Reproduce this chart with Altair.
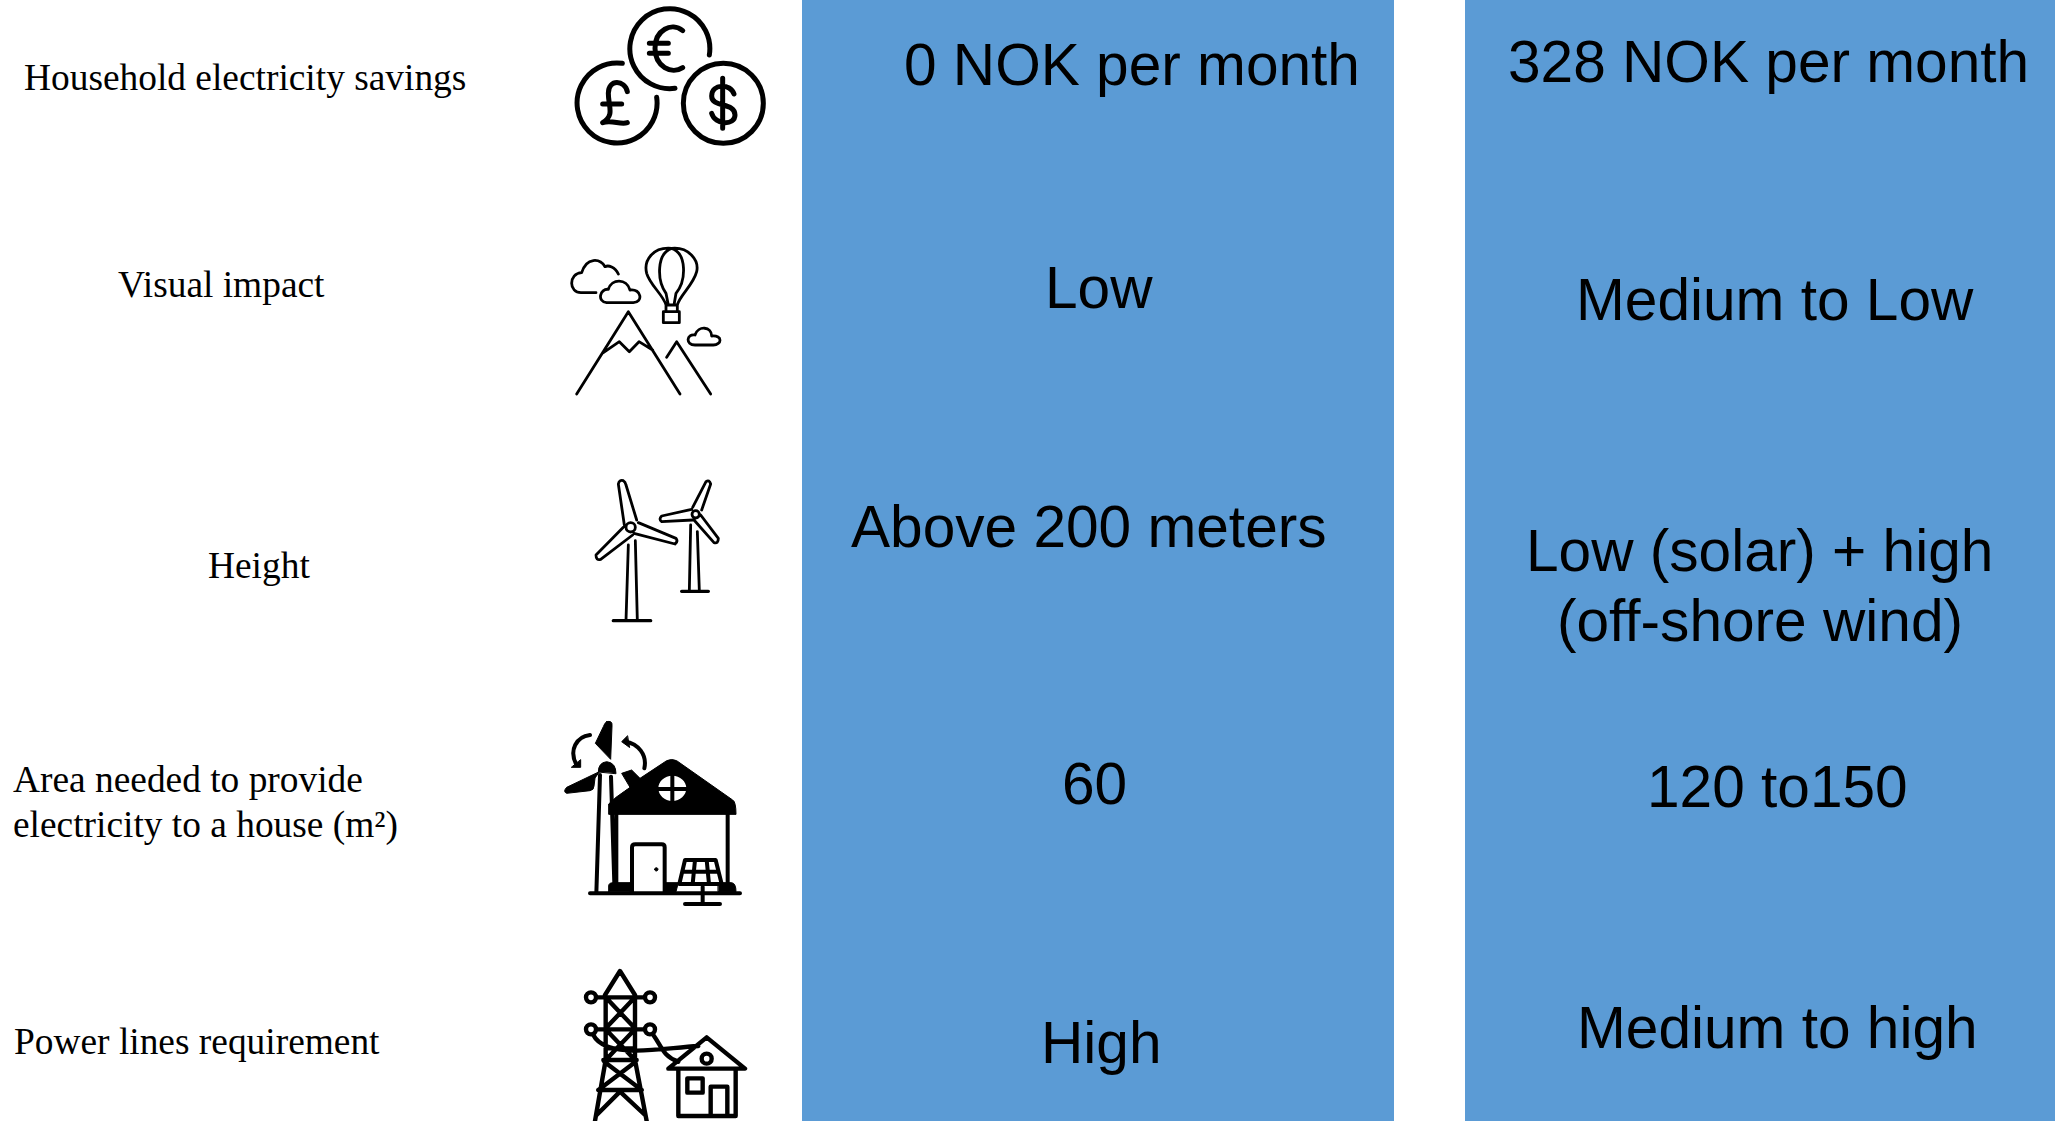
import altair as alt
import pandas as pd

W, H = 2055, 1121

# Blue columns
panel_left = [802, 1465]
panel_right = [1394, 2055]
panel_top = [0, 0]
panel_bottom = [1121, 1121]
BLUE = "#5B9BD5"

# Row labels (serif)
label_text = ["Household electricity savings", "Visual impact", "Height",
              "Area needed to provide", "electricity to a house (m²)", "Power lines requirement"]
label_x = [24, 118, 208, 13, 13, 14]
label_y = [90, 297, 578, 792, 837, 1054]

# Column values (sans)
value_text = ["0 NOK per month", "328 NOK per month", "Low", "Medium to Low",
              "Above 200 meters", "Low (solar) + high", "(off-shore wind)",
              "60", "120 to150", "High", "Medium to high"]
value_x = [904, 1508, 1045, 1576, 851, 1526, 1557, 1062, 1647, 1041, 1577]
value_y = [85, 82, 308, 320, 547, 571, 641, 804, 807, 1063, 1048]


def ring(cx, cy, r, ry=None):
    ry = ry or r
    return f"M{cx-r},{cy} A{r},{ry} 0 1 1 {cx+r},{cy} A{r},{ry} 0 1 1 {cx-r},{cy} Z "


# Icon outlines, drawn at one third of their path units from an (x, y) anchor
COINS = (
    "M508,165 A120,120 0 1 0 405,265 "
    "M247,190 A120,120 0 1 0 350,292 " + ring(550, 310, 120) +
    "M428,92 C395,65 345,90 345,145 C345,200 395,225 428,203 M328,130 L385,130 M328,160 L385,160 "
    "M262,275 C255,240 205,235 205,280 C205,320 225,345 188,368 C215,358 240,375 262,368 M188,312 L245,312 "
    "M582,282 C572,250 515,250 515,288 C515,325 585,305 585,345 C585,378 525,375 515,340 M548,235 L548,385"
)
LANDSCAPE = (
    "M235,822 C225,800 205,795 195,800 C180,775 140,770 125,818 C85,820 85,880 125,878 L168,878 "
    "M200,908 C170,905 180,865 205,868 C215,835 260,835 270,870 C305,865 310,908 280,908 Z "
    "M395,745 C340,740 310,780 320,820 C330,855 370,885 378,915 L412,915 C420,885 460,855 470,815 C478,780 445,740 395,745 Z "
    "M395,745 C350,760 350,840 378,880 L385,915 M395,745 C440,760 440,840 408,880 L402,915 "
    "M370,935 L418,935 L418,968 L370,968 Z M378,915 L378,935 M412,915 L412,935 "
    "M110,1182 L265,935 L420,1182 M190,1058 L238,1025 L268,1055 L297,1025 L338,1050 "
    "M380,1072 L410,1025 L512,1182 "
    "M465,1035 C435,1035 440,1000 465,1005 C475,975 515,980 515,1008 C550,1005 545,1035 520,1035 Z"
)
TURBINES = (
    ring(182, 172, 14) +
    "M163,165 L145,42 Q148,28 160,32 Q166,35 168,45 L200,150 "
    "M205,158 L318,205 Q325,215 315,222 L192,190 "
    "M160,172 L78,255 Q78,272 92,268 L188,195 "
    "M175,225 L168,452 M196,212 L202,452 " + ring(377, 133, 11) +
    "M368,112 L408,35 Q418,28 422,42 L395,120 "
    "M365,118 L275,138 Q265,148 275,155 L368,150 "
    "M392,135 L445,205 Q445,222 432,218 L372,150 "
    "M362,165 L358,363 M382,185 L388,363"
)
TURBINE_BASES = "M130,452 L242,452 M335,364 L415,364"

HOUSE_SOLID = (
    "M176,312 L176,282 L198,262 L240,232 L215,190 L245,180 L270,205 L350,152 Q365,145 380,152 "
    "L548,270 Q558,275 558,312 Z "
    "M170,35 Q188,30 186,48 L182,148 L136,100 L160,50 Q164,38 170,35 Z "
    "M145,185 Q145,158 170,155 Q198,158 198,190 Z "
    "M148,185 L50,232 Q38,245 50,250 L120,242 Q132,240 132,228 L135,205 Z "
    "M176,545 L176,528 Q176,518 190,518 L240,518 L240,545 Z "
    "M345,518 L385,518 L378,545 L345,545 Z M505,518 L545,518 Q558,520 558,545 L505,545 Z "
    "M65,172 L92,172 L92,150 Z M232,78 L215,95 L238,112 Z " + ring(319, 478, 5)
)
HOUSE_GAPS = "M193,208 L237,232 L193,260 Z " + ring(367, 235, 42, 38)
HOUSE_LINES = (
    "M367,195 L367,275 M325,237 L410,237 M199,312 L199,520 M533,312 L533,520 "
    "M120,550 L570,550 M246,548 L246,412 Q246,403 256,403 L335,403 Q344,403 344,412 L344,548 "
    "M150,195 L139,550 M183,200 L193,520 "
    "M120,75 C80,80 55,120 80,165 M283,175 C292,135 265,100 225,95 "
    "M388,522 L405,450 L497,450 L515,522 Z M435,450 L428,522 M470,450 L477,522 M398,485 L505,485 "
    "M458,530 L458,580 M405,582 L510,582"
)
PYLON = (
    "M105,105 L150,33 L195,105 M80,112 L222,112 M80,208 L222,208 " +
    ring(63, 112, 15) + ring(240, 112, 15) + ring(63, 208, 15) + ring(240, 208, 15) +
    "M107,112 L107,300 M195,112 L195,300 "
    "M107,112 L195,205 M195,112 L107,205 M107,208 L195,300 M195,208 L107,300 "
    "M107,265 L195,265 M100,300 L200,300 M107,300 L75,483 M195,300 L230,483 M85,390 L215,390 "
    "M103,305 L215,390 M197,305 L85,390 M80,465 L150,395 L225,465 "
    "M70,225 C90,265 150,272 200,272 C260,272 320,262 385,258 M250,225 C275,260 280,290 325,305 "
    "M295,326 L410,232 L525,326 Z M325,326 L325,468 L497,468 L497,326 "
    "M352,355 L398,355 L398,398 L352,398 Z M422,468 L422,380 L472,380 L472,468 " + ring(410, 296, 15)
)

# path, anchor x, anchor y, line width, fill colour
icons = [
    (COINS, 540, 0, 5, None),
    (LANDSCAPE, 540, 0, 2.8, None),
    (TURBINES, 570, 470, 2.8, None),
    (TURBINE_BASES, 570, 470, 3.4, None),
    (HOUSE_SOLID, 550, 710, 1, "black"),
    (HOUSE_GAPS, 550, 710, 0, "white"),
    (HOUSE_LINES, 550, 710, 4, None),
    (PYLON, 570, 960, 4.4, None),
]

sx = alt.Scale(domain=[0, W], nice=False, zero=False)
sy = alt.Scale(domain=[H, 0], nice=False, zero=False)
X = alt.X("x:Q", scale=sx, axis=None)
Y = alt.Y("y:Q", scale=sy, axis=None)

panels = alt.Chart(pd.DataFrame({"x": panel_left, "x2": panel_right, "y": panel_top, "y2": panel_bottom})).mark_rect(
    color=BLUE, opacity=1
).encode(x=X, x2="x2:Q", y=Y, y2="y2:Q")

labels = alt.Chart(pd.DataFrame({"x": label_x, "y": label_y, "t": label_text})).mark_text(
    font="Liberation Serif", fontSize=37.4, align="left", baseline="alphabetic", color="black"
).encode(x=X, y=Y, text="t:N")

values = alt.Chart(pd.DataFrame({"x": value_x, "y": value_y, "t": value_text})).mark_text(
    font="Liberation Sans", fontSize=58.6, align="left", baseline="alphabetic", color="black"
).encode(x=X, y=Y, text="t:N")

layers = [panels, labels, values]
for path, ox, oy, lw, colour in icons:
    opts = dict(shape=path, size=4 / 9, opacity=1, strokeCap="round", strokeJoin="round")
    if colour:
        opts.update(filled=True, fill=colour, stroke=colour, strokeWidth=lw)
    else:
        opts.update(filled=False, stroke="black", strokeWidth=lw)
    layers.append(alt.Chart(pd.DataFrame({"x": [ox], "y": [oy]})).mark_point(**opts).encode(x=X, y=Y))

chart = alt.layer(*layers).properties(
    width=W, height=H, padding=0,
    autosize=alt.AutoSizeParams(type="none", contains="padding"),
).configure_view(stroke=None)

chart.save("out.html", embed_options={"renderer": "svg", "actions": False})
